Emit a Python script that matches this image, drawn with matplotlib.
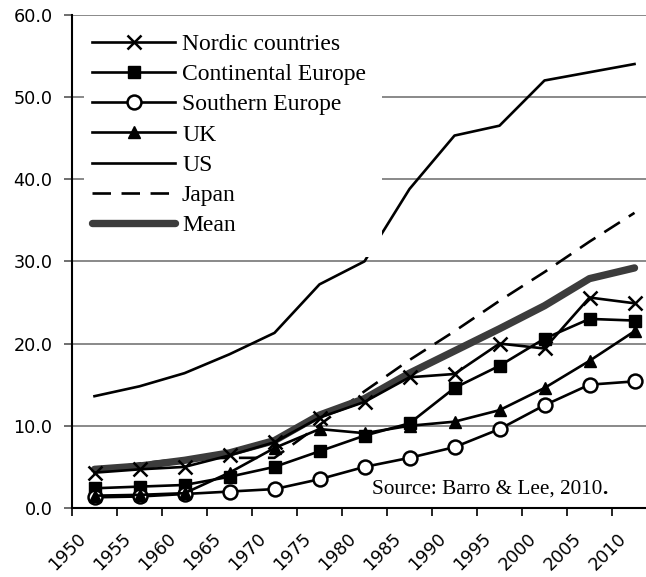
import numpy as np
import matplotlib
matplotlib.use("Agg")
import matplotlib.pyplot as plt
from matplotlib.patches import Rectangle
from matplotlib.transforms import ScaledTranslation

# categorias (anos) e séries
anos = ['1950', '1955', '1960', '1965', '1970', '1975', '1980',
        '1985', '1990', '1995', '2000', '2005', '2010']

nordic = [4.3, 4.7, 5.0, 6.4, 8.0, 11.0, 12.9, 15.9, 16.3, 20.0, 19.4, 25.6, 24.9]
continental = [2.4, 2.6, 2.8, 3.8, 5.0, 6.9, 8.8, 10.3, 14.6, 17.3, 20.6, 23.0, 22.8]
southern = [1.3, 1.4, 1.7, 2.0, 2.3, 3.5, 5.0, 6.1, 7.4, 9.6, 12.5, 15.0, 15.4]
uk = [1.5, 1.6, 1.8, 4.3, 7.3, 9.6, 9.1, 10.0, 10.5, 11.9, 14.6, 17.9, 21.5]
us = [13.6, 14.8, 16.4, 18.7, 21.3, 27.2, 30.0, 38.8, 45.3, 46.5, 52.0, 53.0, 54.0]
japan = [4.6, 5.4, 6.0, 6.1, 6.1, 10.1, 14.2, 18.0, 21.5, 25.2, 28.7, 32.4, 35.9]
media = [4.7, 5.1, 5.8, 6.7, 8.2, 11.3, 13.3, 16.4, 19.1, 21.8, 24.6, 27.9, 29.2]

nomes = ['Nordic countries', 'Continental Europe', 'Southern Europe',
         'UK', 'US', 'Japan', 'Mean']

x = np.arange(len(anos))

fig = plt.figure(figsize=(6.46, 5.77), dpi=100)
ax = fig.add_axes([72 / 646, 69 / 577, 585 / 646, 493.3 / 577])

lw = 1.9
l_nordic, = ax.plot(x, nordic, color='black', lw=lw, marker='x', ms=10.5,
                    mew=1.8, zorder=4)
l_cont, = ax.plot(x, continental, color='black', lw=lw, marker='s', ms=8,
                  zorder=4)
l_south, = ax.plot(x, southern, color='black', lw=lw, marker='o', ms=10,
                   mfc='white', mew=1.8, zorder=4)
l_uk, = ax.plot(x, uk, color='black', lw=lw, marker='^', ms=9, zorder=4)
l_us, = ax.plot(x, us, color='black', lw=lw, zorder=3)
l_jp, = ax.plot(x, japan, color='black', lw=lw, dashes=(7, 4), zorder=3)
l_mean, = ax.plot(x, media, color='#3c3c3c', lw=5.3, solid_capstyle='round',
                  zorder=3.5)

ax.set_xlim(-0.5, 12.5)
ax.set_ylim(0, 60)
ax.set_yticks(np.arange(0, 61, 10))
ax.set_yticklabels(['%.1f' % v for v in np.arange(0, 61, 10)],
                   fontfamily='DejaVu Sans', fontsize=12.7)
ax.set_xticks(np.arange(len(anos) + 1) - 0.5)
ax.set_xticklabels([])

# rótulos dos anos: girados 45 graus e deslocados para a esquerda
desloc = ScaledTranslation(-11 / 100, -28 / 100, fig.dpi_scale_trans)
for i, ano in enumerate(anos):
    ax.text(x[i], 0, ano, transform=ax.get_xaxis_transform() + desloc,
            rotation=45, ha='right', va='center', rotation_mode='anchor',
            fontfamily='DejaVu Sans', fontsize=12.7, clip_on=False)

ax.tick_params(axis='x', length=6, width=1.2, color='black', direction='out')
ax.tick_params(axis='y', length=6, width=1.2, color='#555555', pad=8)

ax.grid(axis='y', color='#808080', lw=1.3)
ax.set_axisbelow(True)
for lado in ['top', 'right']:
    ax.spines[lado].set_visible(False)
ax.spines['left'].set_linewidth(1.5)
ax.spines['bottom'].set_linewidth(1.5)

# fundo branco da legenda (cobre grade e a linha US como no original)
fundo = Rectangle((84 / 646, 1 - 257 / 577), (382 - 84) / 646, (257 - 20) / 577,
                  transform=fig.transFigure, facecolor='white',
                  edgecolor='none', zorder=9, clip_on=False)
ax.add_patch(fundo)

leg = ax.legend([l_nordic, l_cont, l_south, l_uk, l_us, l_jp, l_mean], nomes,
                loc='upper left', bbox_to_anchor=(84 / 646, 1 - 25 / 577),
                bbox_transform=fig.transFigure, borderaxespad=0,
                prop={'family': 'Liberation Serif', 'size': 17},
                handlelength=3.5, handletextpad=0.3, labelspacing=0.37,
                borderpad=0.35, frameon=False)
leg.set_zorder(10)

t = fig.text(372 / 646, 1 - 494 / 577, 'Source: Barro & Lee, 2010',
             fontfamily='Liberation Serif', fontsize=15.3, va='baseline')
ax.annotate('.', xy=(1, 0), xycoords=t, va='bottom', ha='left',
            fontfamily='Liberation Serif', fontsize=15.3, fontweight='bold')

fig.savefig('out.png', dpi=100)
